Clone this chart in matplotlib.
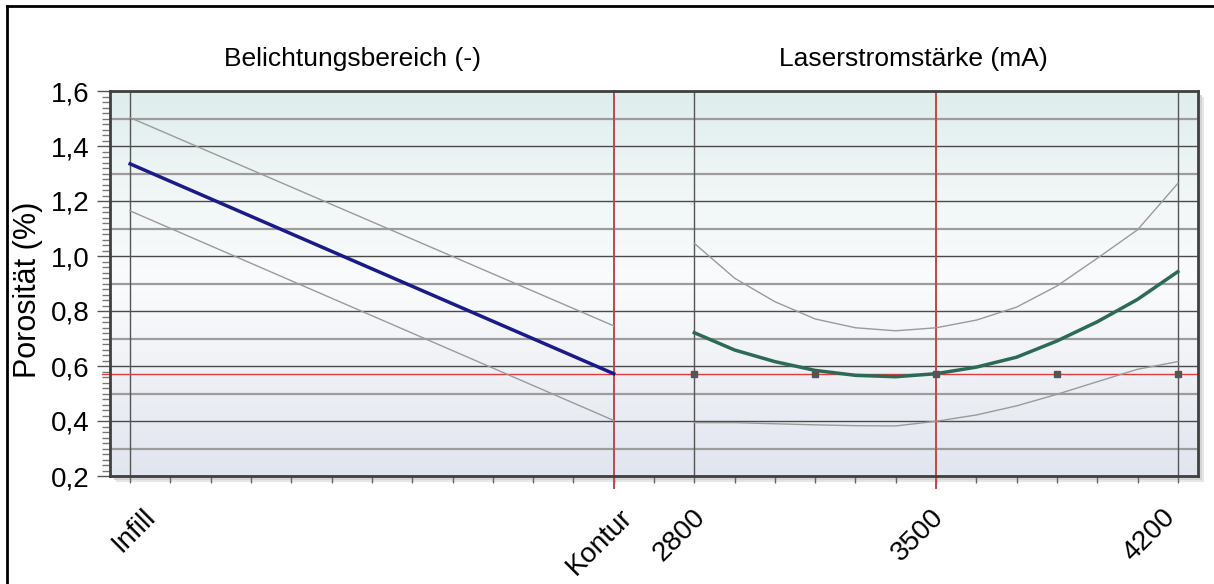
import matplotlib.pyplot as plt
import numpy as np
from matplotlib.colors import LinearSegmentedColormap
from matplotlib.patches import Rectangle
from matplotlib.ticker import MultipleLocator, FuncFormatter
import matplotlib.transforms as mtransforms

plt.rcParams['font.family'] = ['Liberation Sans', 'DejaVu Sans']

# Belichtungsbereich (categorical factor)
belicht_labels = ['Infill', 'Kontur']
belicht_pred = [1.335, 0.572]
belicht_upper = [1.503, 0.746]
belicht_lower = [1.164, 0.402]

# Laserstromstärke (mA)
strom_mA = [2800, 2917, 3033, 3150, 3267, 3383, 3500, 3617, 3733, 3850, 3967, 4083, 4200]
strom_pred = [0.721, 0.658, 0.616, 0.584, 0.566, 0.561, 0.572, 0.596, 0.632, 0.691, 0.761, 0.842, 0.943]
strom_upper = [1.046, 0.919, 0.834, 0.771, 0.739, 0.728, 0.739, 0.767, 0.814, 0.891, 0.992, 1.095, 1.264]
strom_lower = [0.394, 0.394, 0.390, 0.386, 0.383, 0.382, 0.399, 0.422, 0.455, 0.497, 0.543, 0.588, 0.616]
strom_ticks = [2800, 3500, 4200]
design_points = [2800, 3150, 3500, 3850, 4200]

current_belicht = 'Kontur'
current_strom = 3500
current_pred = 0.572

# both factors share one axis: Infill=0, Kontur=12, 2800 mA=14, 4200 mA=26
def belicht_pos(label):
    return belicht_labels.index(label) * 12

def strom_pos(mA):
    return 14 + (np.asarray(mA, dtype=float) - 2800) / 1400 * 12

W, H = 1214, 584
fig = plt.figure(figsize=(W / 100, H / 100), dpi=100)
ax = fig.add_axes([110 / W, (H - 476) / H, 1088 / W, 385 / H])

# shadow behind plot frame
for off, col in [(6, '#e6e6e6'), (4, '#d4d4d4'), (2, '#c4c4c4')]:
    fig.patches.append(Rectangle(((110 + off) / W, (H - 476 - off) / H), 1088 / W, 385 / H,
                                 transform=fig.transFigure, facecolor=col, edgecolor='none', zorder=-1))

# outer border (left and top only visible)
fig.add_artist(plt.Line2D([7 / W, 7 / W], [0, (H - 6) / H], color='black', lw=2, transform=fig.transFigure))
fig.add_artist(plt.Line2D([7 / W, 1], [(H - 6) / H, (H - 6) / H], color='black', lw=2, transform=fig.transFigure))

# background gradient
cmap = LinearSegmentedColormap.from_list('bg', ['#dfeded', '#f0f6f6', '#fafbfc', '#eef0f5', '#e1e5ee'])
grad = np.linspace(0, 1, 256).reshape(-1, 1)
ax.imshow(grad, cmap=cmap, aspect='auto', extent=[-0.5, 26.5, 0.2, 1.6], origin='upper', zorder=0)

ax.set_xlim(-0.5, 26.5)
ax.set_ylim(0.2, 1.6)

# horizontal grid
for v in np.arange(0.2, 1.61, 0.2):
    ax.axhline(v, color='#4a4a4a', lw=1, zorder=1)
for v in np.arange(0.3, 1.6, 0.2):
    ax.axhline(v, color='#9c9c9c', lw=1.6, zorder=1)

# vertical grid
for x in [belicht_pos('Infill'), strom_pos(2800), strom_pos(4200)]:
    ax.axvline(x, color='#555555', lw=1, zorder=1)
cur_x = [belicht_pos(current_belicht), strom_pos(current_strom)]
for x in cur_x:
    ax.plot([x, x], [0.155, 1.6], color='#c04848', lw=1.4, zorder=2, clip_on=False)
ax.plot([-0.7, 26.5], [current_pred, current_pred], color='#e03c3c', lw=1, zorder=2, clip_on=False)

# curves
bx = [belicht_pos(b) for b in belicht_labels]
ax.plot(bx, belicht_upper, color='#9a9a9a', lw=1, zorder=3)
ax.plot(bx, belicht_lower, color='#9a9a9a', lw=1, zorder=3)
ax.plot(bx, belicht_pred, color='#1a1a8a', lw=2.5, zorder=4)

sx = strom_pos(strom_mA)
ax.plot(sx, strom_upper, color='#9a9a9a', lw=1, zorder=3)
ax.plot(sx, strom_lower, color='#9a9a9a', lw=1, zorder=3)
ax.plot(sx, strom_pred, color='#2d6a55', lw=2.5, zorder=4)

ax.plot(strom_pos(design_points), [current_pred] * len(design_points), 's', color='#555555',
        ms=4.5, zorder=5, clip_on=False)

# axes styling
for s in ax.spines.values():
    s.set_color('#404040')
    s.set_linewidth(2)
    s.set_zorder(6)

ax.yaxis.set_major_locator(MultipleLocator(0.2))
ax.yaxis.set_minor_locator(MultipleLocator(0.02))
ax.yaxis.set_major_formatter(FuncFormatter(lambda v, p: f'{v:.1f}'.replace('.', ',')))
ax.tick_params(axis='y', which='major', length=9.5, width=1, color='#555555', labelsize=20, pad=5)
ax.tick_params(axis='y', which='minor', length=6, width=1, color='#777777')

ax.xaxis.set_major_locator(MultipleLocator(1))
ax.tick_params(axis='x', which='major', length=5, width=1, color='#666666', labelbottom=False)

# x labels
x_labels = belicht_labels + [str(v) for v in strom_ticks]
x_pos = [belicht_pos(b) for b in belicht_labels] + list(strom_pos(strom_ticks))
label_dx = [12, 6, -2, -5, -16]
for lab, xp, dx in zip(x_labels, x_pos, label_dx):
    tr = ax.get_xaxis_transform() + mtransforms.ScaledTranslation(dx / 100, -28 / 100, fig.dpi_scale_trans)
    ax.text(xp, 0, lab, transform=tr, rotation=45, rotation_mode='anchor',
            ha='right', va='top', fontsize=20)

fig.text(28 / W, (H - 290) / H, 'Porosität (%)', rotation=90, ha='center', va='center', fontsize=22)
fig.text(352 / W, (H - 59) / H, 'Belichtungsbereich (-)', ha='center', va='center', fontsize=19)
fig.text(913 / W, (H - 59) / H, 'Laserstromstärke (mA)', ha='center', va='center', fontsize=19)

fig.savefig('out.png', dpi=100)
